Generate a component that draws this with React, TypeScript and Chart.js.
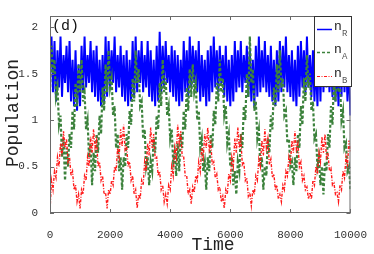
import React, { useEffect, useRef } from "react";
import { Chart, registerables } from "chart.js";

Chart.register(...registerables);

const TIME_STEP = 50;
const xTicks = [0, 2000, 4000, 6000, 8000, 10000];
const yTicks = [0, 0.5, 1, 1.5, 2];
const X_MAX = 10000;
const Y_MAX = 2.12;

const nR = [
  1.55, 1.9, 1.3, 1.85, 1.2, 1.75, 1.35, 1.9, 1.25, 1.7,
  1.4, 1.8, 1.3, 1.85, 1.2, 1.65, 1.15, 1.75, 1.1, 1.6,
  1.15, 1.8, 1.3, 1.9, 1.35, 1.7, 1.4, 1.85, 1.3, 1.75,
  1.25, 1.8, 1.2, 1.65, 1.15, 1.7, 1.2, 1.9, 1.25, 1.85,
  1.35, 1.75, 1.4, 1.9, 1.3, 1.7, 1.35, 1.8, 1.25, 1.7,
  1.2, 1.75, 1.15, 1.65, 1.2, 1.85, 1.25, 1.9, 1.3, 1.75,
  1.4, 1.85, 1.3, 1.7, 1.35, 1.85, 1.25, 1.75, 1.2, 1.65,
  1.15, 1.8, 1.2, 1.95, 1.3, 1.8, 1.35, 1.85, 1.4, 1.7,
  1.3, 1.8, 1.25, 1.75, 1.2, 1.7, 1.15, 1.65, 1.2, 1.85,
  1.3, 1.75, 1.25, 1.9, 1.35, 1.8, 1.4, 1.75, 1.3, 1.85,
  1.2, 1.7, 1.25, 1.65, 1.15, 1.75, 1.2, 1.8, 1.3, 1.9,
  1.35, 1.75, 1.3, 1.8, 1.4, 1.7, 1.25, 1.8, 1.2, 1.65,
  1.15, 1.7, 1.2, 1.85, 1.3, 1.75, 1.35, 1.85, 1.3, 1.7,
  1.4, 1.8, 1.25, 1.75, 1.2, 1.65, 1.15, 1.8, 1.25, 1.9,
  1.3, 1.75, 1.35, 1.85, 1.3, 1.7, 1.25, 1.8, 1.2, 1.65,
  1.15, 1.75, 1.2, 1.85, 1.3, 1.8, 1.35, 1.9, 1.3, 1.7,
  1.25, 1.75, 1.2, 1.65, 1.15, 1.8, 1.25, 1.85, 1.35, 1.75,
  1.3, 1.9, 1.35, 1.7, 1.25, 1.75, 1.2, 1.65, 1.15, 1.8,
  1.2, 1.85, 1.3, 1.75, 1.35, 1.8, 1.3, 1.7, 1.25, 1.75,
  1.2, 1.65, 1.15, 1.8, 1.25, 1.85, 1.3, 1.7, 1.2, 1.6,
  1.05,
];

const nA = [
  1.3, 1.8, 1.5, 1.65, 1.25, 1.35, 0.95, 1.05, 0.6, 0.8,
  0.35, 0.7, 0.5, 0.85, 0.7, 1.1, 0.9, 1.4, 1.15, 1.6,
  1.3, 1.65, 1.2, 1.3, 0.9, 1.0, 0.6, 0.75, 0.3, 0.65,
  0.45, 0.85, 0.65, 1.05, 0.85, 1.35, 1.1, 1.6, 1.3, 1.75,
  1.35, 1.45, 1.05, 1.15, 0.7, 0.85, 0.45, 0.6, 0.25, 0.6,
  0.5, 0.85, 0.7, 1.1, 0.95, 1.45, 1.2, 1.75, 1.4, 1.55,
  1.15, 1.2, 0.8, 0.9, 0.5, 0.6, 0.3, 0.55, 0.45, 0.8,
  0.65, 1.05, 0.9, 1.4, 1.15, 1.65, 1.3, 1.45, 1.05, 1.15,
  0.8, 0.9, 0.55, 0.65, 0.4, 0.75, 0.45, 0.85, 0.7, 1.1,
  0.9, 1.35, 1.1, 1.55, 1.25, 1.6, 1.3, 1.4, 1.0, 1.1,
  0.7, 0.8, 0.45, 0.55, 0.25, 0.6, 0.45, 0.85, 0.7, 1.1,
  0.95, 1.4, 1.2, 1.65, 1.3, 1.45, 1.05, 1.15, 0.75, 0.85,
  0.5, 0.6, 0.3, 0.45, 0.2, 0.55, 0.45, 0.85, 0.7, 1.15,
  1.0, 1.5, 1.25, 1.9, 1.4, 1.55, 1.1, 1.2, 0.8, 0.9,
  0.5, 0.6, 0.25, 0.5, 0.4, 0.8, 0.65, 1.05, 0.9, 1.35,
  1.15, 1.6, 1.3, 1.75, 1.35, 1.45, 1.05, 1.1, 0.75, 0.8,
  0.5, 0.55, 0.3, 0.6, 0.45, 0.85, 0.7, 1.15, 0.95, 1.45,
  1.2, 1.7, 1.35, 1.5, 1.1, 1.2, 0.8, 0.85, 0.5, 0.6,
  0.3, 0.5, 0.2, 0.55, 0.45, 0.85, 0.7, 1.15, 0.95, 1.45,
  1.2, 1.65, 1.3, 1.4, 1.0, 1.1, 0.7, 0.75, 0.45, 0.5,
  0.25,
];

const nB = [
  0.02, 0.35, 0.25, 0.45, 0.38, 0.6, 0.5, 0.75, 0.62, 0.88,
  0.7, 0.8, 0.55, 0.6, 0.4, 0.45, 0.25, 0.3, 0.12, 0.2,
  0.05, 0.25, 0.2, 0.4, 0.35, 0.6, 0.5, 0.82, 0.65, 0.9,
  0.7, 0.78, 0.5, 0.55, 0.35, 0.4, 0.2, 0.22, 0.05, 0.25,
  0.2, 0.35, 0.3, 0.5, 0.45, 0.7, 0.6, 0.9, 0.72, 0.95,
  0.68, 0.72, 0.5, 0.55, 0.35, 0.4, 0.2, 0.25, 0.05, 0.2,
  0.15, 0.35, 0.3, 0.55, 0.45, 0.75, 0.62, 0.92, 0.7, 0.85,
  0.58, 0.6, 0.4, 0.45, 0.25, 0.3, 0.12, 0.2, 0.1, 0.3,
  0.25, 0.5, 0.4, 0.7, 0.6, 0.95, 0.75, 0.88, 0.6, 0.6,
  0.4, 0.4, 0.2, 0.25, 0.1, 0.28, 0.22, 0.4, 0.35, 0.55,
  0.45, 0.7, 0.6, 0.85, 0.7, 0.92, 0.68, 0.75, 0.52, 0.55,
  0.38, 0.42, 0.25, 0.28, 0.12, 0.18, 0.05, 0.25, 0.2, 0.42,
  0.35, 0.6, 0.5, 0.8, 0.65, 0.92, 0.7, 0.8, 0.52, 0.55,
  0.35, 0.38, 0.18, 0.22, 0.08, 0.25, 0.2, 0.4, 0.35, 0.58,
  0.5, 0.78, 0.62, 0.9, 0.7, 0.8, 0.52, 0.58, 0.38, 0.42,
  0.25, 0.3, 0.15, 0.2, 0.12, 0.3, 0.25, 0.45, 0.4, 0.6,
  0.52, 0.78, 0.65, 0.88, 0.68, 0.75, 0.5, 0.55, 0.35, 0.4,
  0.25, 0.28, 0.15, 0.22, 0.15, 0.35, 0.3, 0.5, 0.42, 0.65,
  0.55, 0.82, 0.65, 0.85, 0.6, 0.65, 0.45, 0.48, 0.3, 0.32,
  0.2, 0.22, 0.12, 0.3, 0.25, 0.45, 0.38, 0.6, 0.52, 0.78,
  0.65,
];

const seriesLabels = [
  { main: "n", sub: "R" },
  { main: "n", sub: "A" },
  { main: "n", sub: "B" },
];
const panelLabel = "(d)";
const xTitle = "Time";
const yTitle = "Population";

const MONO = '"Liberation Mono", "DejaVu Sans Mono", monospace';
const BLUE = "#0000ff";
const GREEN = "#3c823c";
const RED = "#ff1a1a";

export default function App() {
  const ref = useRef<HTMLCanvasElement>(null);

  useEffect(() => {
    document.body.style.margin = "0";
    const canvas = ref.current;
    if (!canvas) return;
    const toPts = (arr: number[]) => arr.map((y, i) => ({ x: i * TIME_STEP, y }));

    const decor = {
      id: "decor",
      afterDatasetsDraw(chart: any) {
        const { ctx, chartArea: a, scales } = chart;
        const xs = scales.x;
        const ys = scales.y;
        ctx.save();
        // frame
        ctx.strokeStyle = "#6a6a6a";
        ctx.lineWidth = 1;
        ctx.strokeRect(a.left + 0.5, a.top + 0.5, a.right - a.left - 1, a.bottom - a.top - 1);
        // inward ticks
        ctx.beginPath();
        xTicks.forEach((v) => {
          const px = Math.round(xs.getPixelForValue(v)) + 0.5;
          ctx.moveTo(px, a.bottom);
          ctx.lineTo(px, a.bottom - 4);
          ctx.moveTo(px, a.top);
          ctx.lineTo(px, a.top + 4);
        });
        yTicks.forEach((v) => {
          const py = Math.round(ys.getPixelForValue(v)) + 0.5;
          ctx.moveTo(a.left, py);
          ctx.lineTo(a.left + 4, py);
          ctx.moveTo(a.right, py);
          ctx.lineTo(a.right - 4, py);
        });
        ctx.stroke();

        // panel label
        ctx.fillStyle = "#111";
        ctx.font = `15px ${MONO}`;
        ctx.textAlign = "left";
        ctx.textBaseline = "alphabetic";
        ctx.fillText(panelLabel, a.left + 2, a.top + 14);

        // legend
        const lx = 314, ly = 16, lw = 38, lh = 71;
        ctx.fillStyle = "#ffffff";
        ctx.fillRect(lx, ly, lw, lh);
        ctx.strokeStyle = "#333";
        ctx.strokeRect(lx + 0.5, ly + 0.5, lw - 1, lh - 1);
        const rows = [
          { y: 29, color: BLUE, dash: [] as number[], width: 1.5 },
          { y: 52, color: GREEN, dash: [3, 2], width: 1.5 },
          { y: 76, color: RED, dash: [3, 1.5, 1, 1.5], width: 1 },
        ];
        rows.forEach((r, i) => {
          ctx.beginPath();
          ctx.setLineDash(r.dash);
          ctx.strokeStyle = r.color;
          ctx.lineWidth = r.width;
          ctx.moveTo(317, r.y + 0.5);
          ctx.lineTo(332, r.y + 0.5);
          ctx.stroke();
          ctx.setLineDash([]);
          ctx.fillStyle = "#222";
          ctx.font = `13px ${MONO}`;
          ctx.fillText(seriesLabels[i].main, 334, r.y + 1);
          ctx.fillStyle = "#555";
          ctx.font = `9px ${MONO}`;
          ctx.fillText(seriesLabels[i].sub, 342, r.y + 7);
        });

        // axis titles
        ctx.fillStyle = "#222";
        ctx.font = `18px ${MONO}`;
        ctx.textAlign = "center";
        ctx.textBaseline = "alphabetic";
        ctx.fillText(xTitle, 213, 250);
        ctx.translate(18, 113);
        ctx.rotate(-Math.PI / 2);
        ctx.fillText(yTitle, 0, 0);
        ctx.restore();
      },
    };

    const chart = new Chart(canvas, {
      type: "line",
      data: {
        datasets: [
          {
            label: "nR",
            data: toPts(nR),
            borderColor: BLUE,
            borderWidth: 2,
            pointRadius: 0,
            tension: 0,
            order: 3,
          },
          {
            label: "nA",
            data: toPts(nA),
            borderColor: GREEN,
            borderWidth: 2.2,
            borderDash: [3, 2],
            pointRadius: 0,
            tension: 0,
            order: 2,
          },
          {
            label: "nB",
            data: toPts(nB),
            borderColor: RED,
            borderWidth: 1.4,
            borderDash: [3, 1.5, 1, 1.5],
            pointRadius: 0,
            tension: 0,
            order: 1,
          },
        ],
      },
      options: {
        animation: false,
        responsive: false,
        maintainAspectRatio: false,
        parsing: false as any,
        layout: { padding: { left: 0, right: 22, top: 16, bottom: 0 } },
        plugins: {
          legend: { display: false },
          tooltip: { enabled: false },
        },
        scales: {
          x: {
            type: "linear",
            min: 0,
            max: X_MAX,
            grid: { display: false },
            border: { display: false },
            afterBuildTicks: (s: any) => {
              s.ticks = xTicks.map((v) => ({ value: v }));
            },
            afterFit: (s: any) => {
              s.height = 41;
            },
            ticks: {
              font: { family: MONO, size: 11 },
              color: "#333",
              padding: 7,
              maxRotation: 0,
              callback: (v: any) => String(v),
            },
          },
          y: {
            type: "linear",
            min: 0,
            max: Y_MAX,
            grid: { display: false },
            border: { display: false },
            afterBuildTicks: (s: any) => {
              s.ticks = yTicks.map((v) => ({ value: v }));
            },
            afterFit: (s: any) => {
              s.width = 50;
            },
            ticks: {
              font: { family: MONO, size: 11 },
              color: "#333",
              padding: 4,
              callback: (v: any) => String(v),
            },
          },
        },
      },
      plugins: [decor],
    } as any);

    return () => chart.destroy();
  }, []);

  return (
    <div style={{ width: 374, height: 254 }}>
      <canvas ref={ref} width={374} height={254} style={{ display: "block" }} />
    </div>
  );
}
